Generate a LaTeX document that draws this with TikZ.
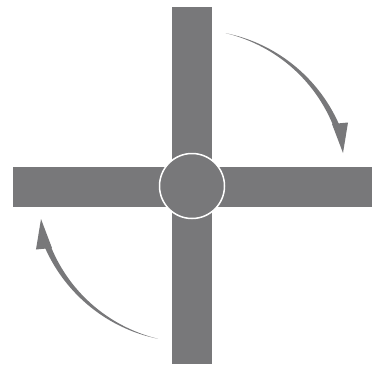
\documentclass[tikz,border=0pt]{standalone}
\usepackage{tikz}
\definecolor{bargray}{RGB}{120,120,122}

\begin{document}
\begin{tikzpicture}[x=1pt,y=1pt]
\useasboundingbox (-192,-179) rectangle (182,186);
% cross bars
\fill[bargray] (-20,-178) rectangle (20,179);
\fill[bargray] (-179,-21) rectangle (180,19);
% hub
\node[circle,fill=bargray,draw=white,line width=1.5pt,minimum size=65pt,inner sep=0pt] (hub) at (0,0) {};
% turning arrows (second one is the first turned by 180)
\foreach \rot in {0,180} {
\begin{scope}[rotate=\rot]
\fill[bargray] plot[domain=77.5:22,samples=40] (\x:{156.5+3*(77.5-\x)/55.5})
  -- plot[domain=22:77.5,samples=40] (\x:{156.5-3*(77.5-\x)/55.5}) -- cycle;
\fill[bargray] (140,62) -- (156,63.5) -- (151,33) -- cycle;
\end{scope}
}
\end{tikzpicture}
\end{document}
